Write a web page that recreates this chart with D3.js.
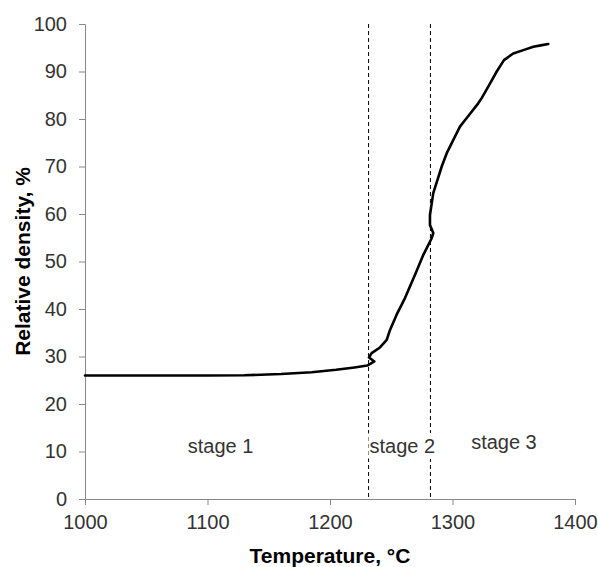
<!DOCTYPE html>
<html>
<head>
<meta charset="utf-8">
<script src="https://cdn.jsdelivr.net/npm/d3@7"></script>
<style>
  body { margin: 0; background: #fff; }
  svg { display: block; font-family: Arial, "Liberation Sans", sans-serif; }
</style>
</head>
<body>
<div id="chart"></div>
<script>
// temperature (°C) and relative density (%)
const temperature = [1000, 1050, 1100, 1130, 1160, 1185, 1205, 1220, 1230.4,
  1236.2, 1231.8, 1234, 1240.8, 1246.3, 1249, 1254.4, 1261.2, 1269.4, 1276.2,
  1283, 1284.3, 1281.6, 1281.6, 1284.3, 1291.2, 1295.3, 1302, 1306.1, 1311.6,
  1321, 1323.8, 1329.2, 1336.1, 1342, 1349.6, 1357.8, 1366, 1372, 1378.2];
const density = [26.0, 26.0, 26.0, 26.05, 26.3, 26.7, 27.2, 27.7, 28.1,
  28.95, 29.8, 30.7, 31.9, 33.5, 35.6, 38.8, 42.3, 47.2, 51.4,
  54.9, 56.0, 57.7, 59.8, 64.4, 70.0, 72.8, 76.3, 78.4, 80.2,
  83.3, 84.4, 86.8, 90.0, 92.4, 93.8, 94.5, 95.2, 95.5, 95.8];

const stageBounds = [1231.5, 1282];
const stageLabels = ["stage 1", "stage 2", "stage 3"];
const stageLabelX = [1110.7, 1259, 1342];
const stageLabelY = [9.7, 9.7, 10.6];

const xTicks = [1000, 1100, 1200, 1300, 1400];
const yTicks = [0, 10, 20, 30, 40, 50, 60, 70, 80, 90, 100];

const width = 598, height = 567;
const margin = { top: 24, right: 23, bottom: 68, left: 85 };

const svg = d3.select("#chart").append("svg")
  .attr("width", width)
  .attr("height", height);

const x = d3.scaleLinear().domain([1000, 1400])
  .range([margin.left, width - margin.right]);
const y = d3.scaleLinear().domain([0, 100])
  .range([height - margin.bottom, margin.top]);

const axisColor = "#888";
const labelColor = "#333";

// axes
const xAxis = svg.append("g")
  .attr("transform", `translate(0,${y(0)})`)
  .call(d3.axisBottom(x).tickValues(xTicks).tickSize(6).tickPadding(10).tickFormat(d3.format("d")));
const yAxis = svg.append("g")
  .attr("transform", `translate(${x(1000)},0)`)
  .call(d3.axisLeft(y).tickValues(yTicks).tickSize(6).tickPadding(12));

[xAxis, yAxis].forEach((g) => {
  g.select(".domain").attr("stroke", axisColor);
  g.selectAll(".tick line").attr("stroke", axisColor);
  g.selectAll(".tick text")
    .attr("fill", labelColor)
    .style("font-size", "20px")
    .style("font-family", "Arial, 'Liberation Sans', sans-serif");
});

// stage boundaries
svg.append("g")
  .selectAll("line")
  .data(stageBounds)
  .join("line")
  .attr("x1", (d) => x(d))
  .attr("x2", (d) => x(d))
  .attr("y1", y(100))
  .attr("y2", y(0))
  .attr("stroke", "#000")
  .attr("stroke-width", 1)
  .attr("stroke-dasharray", "4,3");

// density curve
const line = d3.line()
  .x((d) => x(d[0]))
  .y((d) => y(d[1]));

svg.append("path")
  .datum(d3.zip(temperature, density))
  .attr("d", line)
  .attr("fill", "none")
  .attr("stroke", "#000")
  .attr("stroke-width", 2.6)
  .attr("stroke-linejoin", "round")
  .attr("stroke-linecap", "round");

// stage labels with white boxes behind
const stages = svg.append("g")
  .selectAll("g")
  .data(stageLabels)
  .join("g");

stages.append("rect").attr("fill", "#fff");
stages.append("text")
  .attr("x", (d, i) => x(stageLabelX[i]))
  .attr("y", (d, i) => y(stageLabelY[i]))
  .attr("text-anchor", "middle")
  .attr("fill", labelColor)
  .style("font-size", "20px")
  .text((d) => d);

stages.each(function () {
  const g = d3.select(this);
  const b = g.select("text").node().getBBox();
  g.select("rect")
    .attr("x", b.x - 1)
    .attr("y", b.y - 2)
    .attr("width", b.width + 2)
    .attr("height", b.height + 4);
});

// axis titles
svg.append("text")
  .attr("x", (x(1000) + x(1400)) / 2)
  .attr("y", 563)
  .attr("text-anchor", "middle")
  .style("font-size", "21px")
  .style("font-weight", "bold")
  .attr("fill", "#000")
  .text("Temperature, °C");

svg.append("text")
  .attr("transform", `translate(30,${(y(0) + y(100)) / 2}) rotate(-90)`)
  .attr("text-anchor", "middle")
  .style("font-size", "21px")
  .style("font-weight", "bold")
  .attr("fill", "#000")
  .text("Relative density, %");
</script>
</body>
</html>
